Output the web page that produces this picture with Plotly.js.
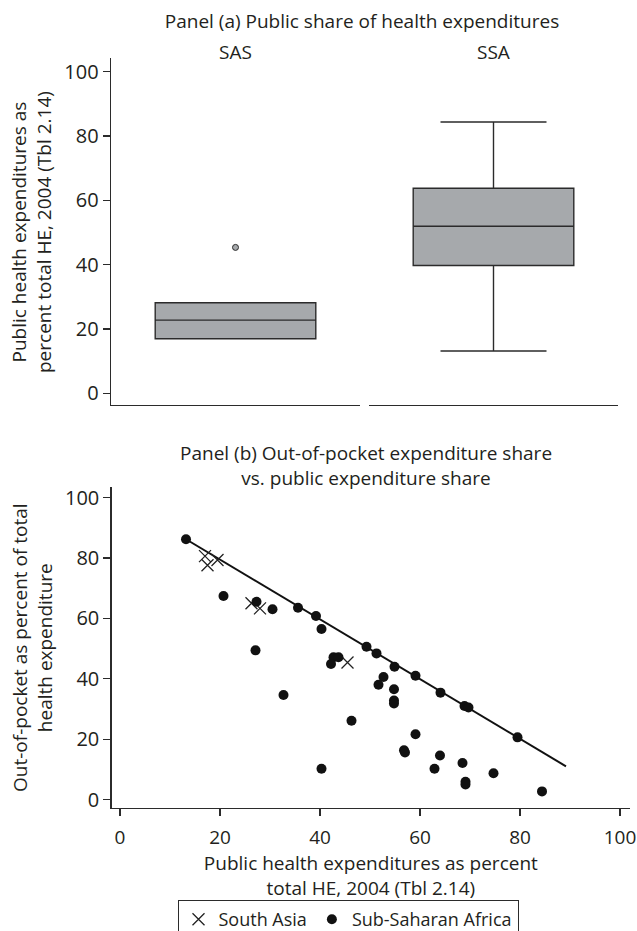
<!DOCTYPE html>
<html>
<head>
<meta charset="utf-8">
<script src="https://cdn.plot.ly/plotly-3.0.1.min.js"></script>
<style>html,body{margin:0;padding:0;background:#fff;overflow:hidden;}#chart{width:637px;height:945px;}</style>
</head>
<body>
<div id="chart"></div>
<script>
// ---- Panel (a): box plot summary, public share of total health expenditure ----
const regions = ['SAS', 'SSA'];
const boxQ1 = [17.0, 39.8];
const boxMedian = [22.8, 52.0];
const boxQ3 = [28.2, 63.8];
const boxLowerFence = [17.0, 13.2];
const boxUpperFence = [28.2, 84.4];
const sasOutliers = [45.4];

// ---- Panel (b): out-of-pocket share vs public share ----
const southAsiaPublic = [17.0, 19.5, 17.5, 26.3, 28.0, 45.5];
const southAsiaOOP    = [80.6, 79.3, 77.6, 65.0, 63.3, 45.4];

const ssaPublic = [13.2, 20.7, 27.3, 30.5, 35.6, 39.2, 40.3, 27.1, 42.7, 43.7,
                   42.2, 32.7, 46.3, 40.3, 49.3, 51.3, 54.9, 52.7, 51.7, 54.8,
                   54.8, 54.8, 59.1, 64.1, 68.9, 69.7, 79.5, 59.1, 56.8, 57.0,
                   64.0, 68.5, 62.9, 74.7, 69.1, 69.1, 84.4];
const ssaOOP    = [86.2, 67.4, 65.5, 63.0, 63.5, 60.8, 56.5, 49.4, 47.1, 47.1,
                   44.9, 34.6, 26.1, 10.2, 50.6, 48.4, 44.0, 40.6, 38.0, 36.5,
                   32.8, 31.8, 41.0, 35.4, 31.0, 30.5, 20.6, 21.6, 16.3, 15.6,
                   14.6, 12.1, 10.2, 8.7, 5.9, 5.0, 2.7];

const fitPublic = [13.2, 89.2];
const fitOOP    = [86.2, 11.0];

const tickVals = [0, 20, 40, 60, 80, 100];
const tickText = ['0', '20', '40', '60', '80', '100'];

// ---- styling ----
// figure is a little taller than the 931px window so the legend box is cut at the bottom edge
const W = 637, H = 945;
const px = v => v / W;
const py = v => 1 - v / H;
const FONT = 'Open Sans, Noto Sans, sans-serif';
const TXT = '#231f20';
const AX = '#2b2b2b';
const FS = 19;
const TFS = 20;
const boxFill = '#a6a9ac';

function boxTrace(i, xa) {
  return {
    type: 'box',
    name: regions[i],
    x: [regions[i]],
    q1: [boxQ1[i]], median: [boxMedian[i]], q3: [boxQ3[i]],
    lowerfence: [boxLowerFence[i]], upperfence: [boxUpperFence[i]],
    width: 0.645, whiskerwidth: 0.66,
    fillcolor: boxFill,
    line: {color: AX, width: 1.4},
    xaxis: xa, yaxis: xa === 'x' ? 'y' : 'y2',
    showlegend: false, hoverinfo: 'skip'
  };
}

const traces = [
  boxTrace(0, 'x'),
  boxTrace(1, 'x2'),
  {
    type: 'scatter', mode: 'markers',
    x: sasOutliers.map(() => regions[0]), y: sasOutliers,
    marker: {symbol: 'circle', size: 6, color: boxFill, line: {color: AX, width: 1}},
    xaxis: 'x', yaxis: 'y', showlegend: false, hoverinfo: 'skip'
  },
  {
    type: 'scatter', mode: 'lines',
    x: fitPublic, y: fitOOP,
    line: {color: '#111', width: 2},
    xaxis: 'x3', yaxis: 'y3', showlegend: false, hoverinfo: 'skip'
  },
  {
    type: 'scatter', mode: 'markers', name: 'South Asia',
    x: southAsiaPublic, y: southAsiaOOP,
    marker: {symbol: 'x-thin-open', size: 12, color: '#222', line: {color: '#222', width: 1.3}},
    xaxis: 'x3', yaxis: 'y3'
  },
  {
    type: 'scatter', mode: 'markers', name: 'Sub-Saharan Africa',
    x: ssaPublic, y: ssaOOP,
    marker: {symbol: 'circle', size: 10, color: '#111'},
    xaxis: 'x3', yaxis: 'y3'
  }
];

const axCommon = {
  tickvals: tickVals, ticktext: tickText,
  ticks: 'outside', ticklen: 7, tickwidth: 1.3, tickcolor: AX,
  showline: true, linecolor: AX, linewidth: 1.4,
  showgrid: false, zeroline: false,
  tickfont: {family: FONT, size: TFS, color: TXT}
};

const layout = {
  width: W, height: H,
  margin: {l: 0, r: 0, t: 0, b: 0},
  paper_bgcolor: '#fff', plot_bgcolor: '#fff',
  font: {family: FONT, size: FS, color: TXT},
  title: {
    text: 'Panel (a) Public share of health expenditures',
    x: px(362), xanchor: 'center', xref: 'paper',
    y: py(21), yanchor: 'middle', yref: 'paper',
    font: {family: FONT, size: FS, color: TXT}
  },
  xaxis: {
    domain: [px(111), px(360)], anchor: 'y', type: 'category',
    range: [-0.5, 0.5], showline: true, linecolor: AX, linewidth: 1.4,
    ticks: '', showticklabels: false, showgrid: false, zeroline: false
  },
  xaxis2: {
    domain: [px(369), px(618)], anchor: 'y2', type: 'category',
    range: [-0.5, 0.5], showline: true, linecolor: AX, linewidth: 1.4,
    ticks: '', showticklabels: false, showgrid: false, zeroline: false
  },
  yaxis: Object.assign({}, axCommon, {
    domain: [py(404.7), py(58.3)], anchor: 'x', range: [-3.5, 104.2]
  }),
  yaxis2: {
    domain: [py(404.7), py(58.3)], anchor: 'x2', range: [-3.5, 104.2],
    visible: false, showgrid: false, zeroline: false
  },
  xaxis3: Object.assign({}, axCommon, {
    domain: [px(111.7), px(630)], anchor: 'y3', range: [-1.66, 102],
    ticklabelstandoff: 5,
    tickfont: {family: FONT, size: 19, color: TXT},
    title: {text: 'Public health expenditures as percent<br>total HE, 2004 (Tbl 2.14)',
            standoff: 4,
            font: {family: FONT, size: FS, color: TXT}}
  }),
  yaxis3: Object.assign({}, axCommon, {
    domain: [py(808), py(487)], anchor: 'x3', range: [-2.8, 103.5]
  }),
  annotations: [
    {text: regions[0], xref: 'paper', yref: 'paper', x: px(235.5), y: py(52),
     xanchor: 'center', yanchor: 'middle', showarrow: false,
     font: {family: FONT, size: FS, color: TXT}},
    {text: regions[1], xref: 'paper', yref: 'paper', x: px(493.5), y: py(52),
     xanchor: 'center', yanchor: 'middle', showarrow: false,
     font: {family: FONT, size: FS, color: TXT}},
    {text: 'Panel (b) Out-of-pocket expenditure share<br>vs. public expenditure share',
     xref: 'paper', yref: 'paper', x: px(366), y: py(465),
     xanchor: 'center', yanchor: 'middle', showarrow: false,
     font: {family: FONT, size: FS, color: TXT}},
    {text: 'Public health expenditures as<br>percent total HE, 2004 (Tbl 2.14)',
     xref: 'paper', yref: 'paper', x: px(32), y: py(232), textangle: -90,
     xanchor: 'center', yanchor: 'middle', showarrow: false,
     font: {family: FONT, size: FS, color: TXT}},
    {text: 'Out-of-pocket as percent of total<br>health expenditure',
     xref: 'paper', yref: 'paper', x: px(32), y: py(648), textangle: -90,
     xanchor: 'center', yanchor: 'middle', showarrow: false,
     font: {family: FONT, size: FS, color: TXT}}
  ],
  showlegend: true,
  legend: {
    orientation: 'h', x: px(348), xanchor: 'center', y: py(900), yanchor: 'top',
    bordercolor: AX, borderwidth: 1, bgcolor: '#fff',
    font: {family: FONT, size: 18, color: TXT},
    itemclick: false, itemdoubleclick: false
  }
};

Plotly.newPlot('chart', traces, layout, {staticPlot: true, displayModeBar: false});
</script>
</body>
</html>
